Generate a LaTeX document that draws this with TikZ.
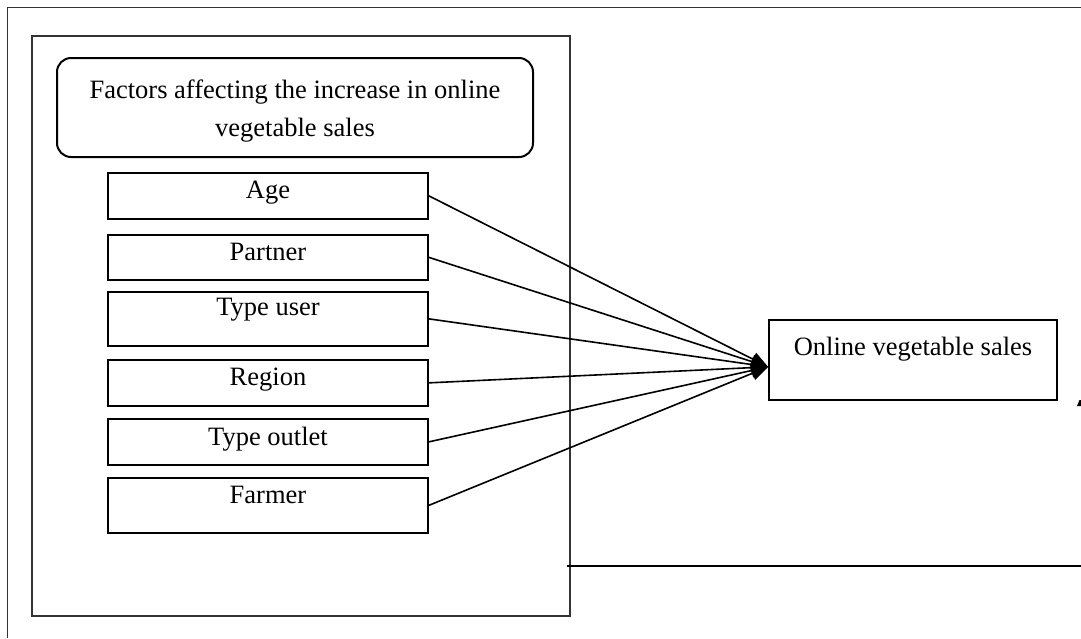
\documentclass[tikz,border=0pt]{standalone}
\usepackage{fontspec}
\setmainfont{Liberation Serif}
\usetikzlibrary{arrows.meta}
\begin{document}
\begin{tikzpicture}[x=1pt,y=-1pt,
  txt/.style={font=\fontsize{26.5}{38}\selectfont},
  factorbox/.style={txt,draw,line width=1.7pt,minimum width=320pt,inner sep=0pt,anchor=north,text height=26pt},
  conn/.style={line width=1.6pt,-{Triangle[length=17pt,width=14pt]}},
  frame/.style={line width=1pt,draw=black!80}]
\useasboundingbox (0,0) rectangle (1081,638);
% outer frame (cropped)
\coordinate (of1) at (7,638);
\coordinate (of2) at (7,7);
\coordinate (of3) at (1081,7);
\draw[frame] (of1) -- (of2) -- (of3);
% inner frame
\coordinate (if1) at (32,36);
\coordinate (if2) at (570,616);
\draw[frame,line width=1.2pt] (if1) rectangle (if2);
% title box
\node[draw,line width=2pt,rounded corners=14pt,minimum width=476pt,minimum height=99pt,inner sep=0pt]
  (title) at (295,107.5) {};
\node[txt,inner sep=0pt,align=center] (titletext) at (295,111)
  {\shortstack{Factors affecting the increase in online\\[11pt]vegetable sales}};
% factor boxes
\node[factorbox,text depth=20pt] (age) at (268,172) {Age};
\node[factorbox,text depth=19pt] (partner) at (268,234) {Partner};
\node[factorbox,text height=24pt,text depth=30pt] (user) at (268,291) {Type user};
\node[factorbox,text depth=20pt] (region) at (268,359) {Region};
\node[factorbox,text height=27pt,text depth=19pt] (outlet) at (268,418) {Type outlet};
\node[factorbox,text depth=29pt] (farmer) at (268,477) {Farmer};
% outcome box
\node[txt,draw,line width=1.7pt,minimum width=288pt,inner sep=0pt,anchor=north,text height=36pt,text depth=44pt]
  (out) at (913,319) {Online vegetable sales};
\coordinate (tip) at ([yshift=-7pt]out.west);
% connectors
\foreach \s in {age,partner,user,region,outlet,farmer}
  \draw[conn] (\s.east) -- (tip);
% bottom horizontal line
\coordinate (h1) at (567,566);
\coordinate (h2) at (1081,566);
\draw[line width=1.5pt] (h1) -- (h2);
% tiny cropped mark at right edge
\fill (1077,406) -- (1079.5,400) -- (1081,400) -- (1081,406) -- cycle;
\end{tikzpicture}
\end{document}
